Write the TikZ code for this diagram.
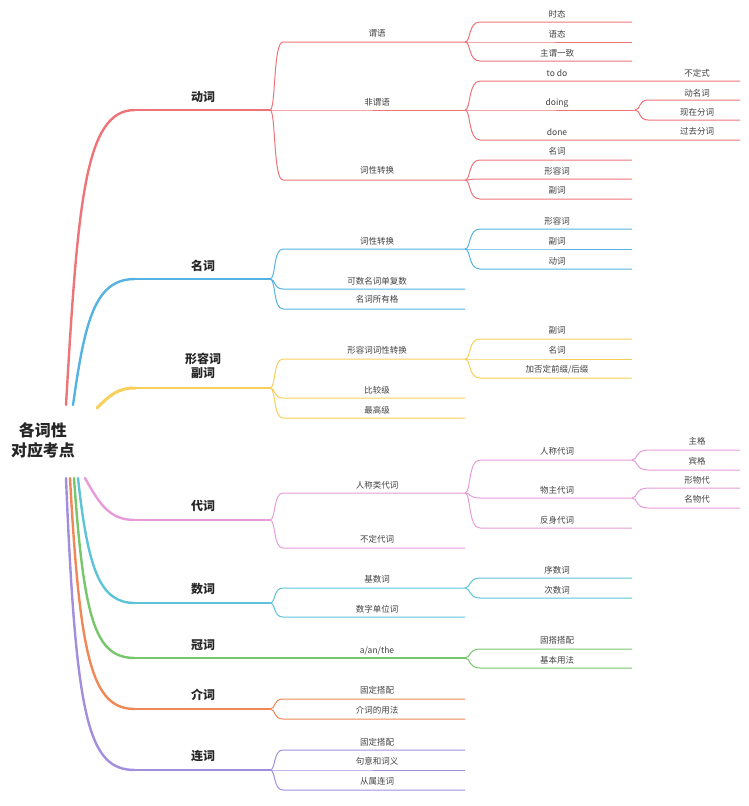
\documentclass[tikz,border=0pt]{standalone}
\usepackage{fontspec}
\setmainfont{Noto Sans CJK SC}
\begin{document}
\begin{tikzpicture}[x=1pt,y=-1pt,
  lab/.style={font=\fontsize{8.5}{10}\selectfont, text=black!75, inner sep=0pt},
  top/.style={font=\fontsize{12}{14}\selectfont\bfseries, text=black!85, inner sep=0pt, align=center},
  ln/.style={line width=1pt},
  rt/.style={line width=2.4pt, line cap=round},
  hz/.style={line width=1.2pt}]
\useasboundingbox (0,0) rectangle (749,806);
\definecolor{cA}{HTML}{EE7479}
\definecolor{cB}{HTML}{56B2E2}
\definecolor{cC}{HTML}{F8CF5A}
\definecolor{cD}{HTML}{E79BD9}
\definecolor{cE}{HTML}{5DC4D8}
\definecolor{cF}{HTML}{77C66C}
\definecolor{cG}{HTML}{EF8757}
\definecolor{cH}{HTML}{A38EDE}
\newcommand\kid[6]{\draw[ln,#1] (#2,#3) .. controls (#2+6,#3) and (#2+3,#5) .. (#4,#5) -- (#6,#5);}
\newcommand\lbl[4][lab]{\node[#1] at (#2,#3) {#4};}
\node[top,font=\fontsize{16}{20}\selectfont\bfseries] (root) at (43,440) {各词性\\对应考点};
\draw[rt,cA] (66,405) .. controls (78,200) and (85,110) .. (135,110);
\draw[hz,cA] (134,110) -- (270,110);
\draw[rt,cB] (73,405) .. controls (85,320) and (95,279) .. (135,279);
\draw[hz,cB] (134,279) -- (270,279);
\draw[rt,cC,line width=3pt] (97,408) .. controls (110,395) and (118,388) .. (135,388);
\draw[hz,cC] (134,388) -- (270,388);
\draw[rt,cD] (85,478) .. controls (100,505) and (110,520) .. (135,520);
\draw[hz,cD] (134,520) -- (270,520);
\draw[rt,cE] (78,478) .. controls (88,570) and (100,603) .. (135,603);
\draw[hz,cE] (134,603) -- (270,603);
\draw[rt,cF] (74,478) .. controls (84,620) and (95,658) .. (135,658);
\draw[hz,cF] (134,658) -- (465,658);
\draw[rt,cG] (70,478) .. controls (80,660) and (92,709) .. (135,709);
\draw[hz,cG] (134,709) -- (270,709);
\draw[rt,cH] (66,478) .. controls (76,720) and (88,770) .. (135,770);
\draw[hz,cH] (134,770) -- (270,770);
\lbl[top]{203}{97}{动词}
\lbl[top]{203}{266}{名词}
\lbl[top]{203}{366}{形容词\\副词}
\lbl[top]{203}{506}{代词}
\lbl[top]{203}{589}{数词}
\lbl[top]{203}{645}{冠词}
\lbl[top]{203}{695}{介词}
\lbl[top]{203}{756}{连词}
% 动词
\kid{cA}{270}{110}{283}{42}{465}\lbl{377}{33}{谓语}
\kid{cA}{270}{110}{283}{110}{465}\lbl{377}{102}{非谓语}
\kid{cA}{270}{110}{283}{180}{465}\lbl{377}{170}{词性转换}
\kid{cA}{465}{42}{480}{22}{632}\lbl{557}{14}{时态}
\kid{cA}{465}{42}{480}{42}{632}\lbl{557}{34}{语态}
\kid{cA}{465}{42}{480}{61}{632}\lbl{557}{53}{主谓一致}
\kid{cA}{465}{110}{480}{81}{740}\lbl{557}{73}{to do}
\kid{cA}{465}{110}{480}{110}{635}\lbl{557}{103}{doing}
\kid{cA}{465}{110}{480}{140}{740}\lbl{557}{132}{done}
\lbl{697}{73}{不定式}
\kid{cA}{635}{110}{648}{100}{740}\lbl{697}{93}{动名词}
\kid{cA}{635}{110}{648}{120}{740}\lbl{697}{112}{现在分词}
\lbl{697}{131}{过去分词}
\kid{cA}{465}{180}{480}{160}{632}\lbl{557}{151}{名词}
\kid{cA}{465}{180}{480}{179}{632}\lbl{557}{171}{形容词}
\kid{cA}{465}{180}{480}{199}{632}\lbl{557}{190}{副词}
% 名词
\kid{cB}{270}{279}{283}{249}{465}\lbl{377}{241}{词性转换}
\kid{cB}{270}{279}{283}{289}{465}\lbl{377}{281}{可数名词单复数}
\kid{cB}{270}{279}{283}{309}{465}\lbl{377}{299}{名词所有格}
\kid{cB}{465}{249}{480}{229}{632}\lbl{557}{221}{形容词}
\kid{cB}{465}{249}{480}{249}{632}\lbl{557}{241}{副词}
\kid{cB}{465}{249}{480}{269}{632}\lbl{557}{261}{动词}
% 形容词副词
\kid{cC}{270}{388}{283}{359}{465}\lbl{377}{350}{形容词词性转换}
\kid{cC}{270}{388}{283}{398}{465}\lbl{377}{390}{比较级}
\kid{cC}{270}{388}{283}{418}{465}\lbl{377}{410}{最高级}
\kid{cC}{465}{359}{480}{339}{632}\lbl{557}{330}{副词}
\kid{cC}{465}{359}{480}{359}{632}\lbl{557}{350}{名词}
\kid{cC}{465}{359}{480}{378}{632}\lbl{557}{370}{加否定前缀/后缀}
% 代词
\kid{cD}{270}{520}{283}{493}{465}\lbl{377}{485}{人称类代词}
\kid{cD}{270}{520}{283}{548}{465}\lbl{377}{539}{不定代词}
\kid{cD}{465}{493}{480}{460}{632}\lbl{557}{451}{人称代词}
\kid{cD}{465}{493}{480}{498}{632}\lbl{557}{490}{物主代词}
\kid{cD}{465}{493}{480}{528}{632}\lbl{557}{520}{反身代词}
\kid{cD}{632}{460}{648}{450}{740}\lbl{697}{441}{主格}
\kid{cD}{632}{460}{648}{470}{740}\lbl{697}{461}{宾格}
\kid{cD}{632}{498}{648}{488}{740}\lbl{697}{480}{形物代}
\kid{cD}{632}{498}{648}{508}{740}\lbl{697}{499}{名物代}
% 数词
\kid{cE}{270}{603}{283}{588}{465}\lbl{377}{579}{基数词}
\kid{cE}{270}{603}{283}{617}{465}\lbl{377}{609}{数字单位词}
\kid{cE}{465}{588}{480}{578}{632}\lbl{557}{570}{序数词}
\kid{cE}{465}{588}{480}{598}{632}\lbl{557}{590}{次数词}
% 冠词
\lbl{377}{651}{a/an/the}
\kid{cF}{465}{658}{480}{649}{632}\lbl{557}{640}{固搭搭配}
\kid{cF}{465}{658}{480}{668}{632}\lbl{557}{660}{基本用法}
% 介词
\kid{cG}{270}{709}{283}{699}{465}\lbl{377}{690}{固定搭配}
\kid{cG}{270}{709}{283}{719}{465}\lbl{377}{710}{介词的用法}
% 连词
\kid{cH}{270}{770}{283}{750}{465}\lbl{377}{742}{固定搭配}
\kid{cH}{270}{770}{283}{770}{465}\lbl{377}{761}{句意和词义}
\kid{cH}{270}{770}{283}{790}{465}\lbl{377}{781}{从属连词}
\end{tikzpicture}
\end{document}
